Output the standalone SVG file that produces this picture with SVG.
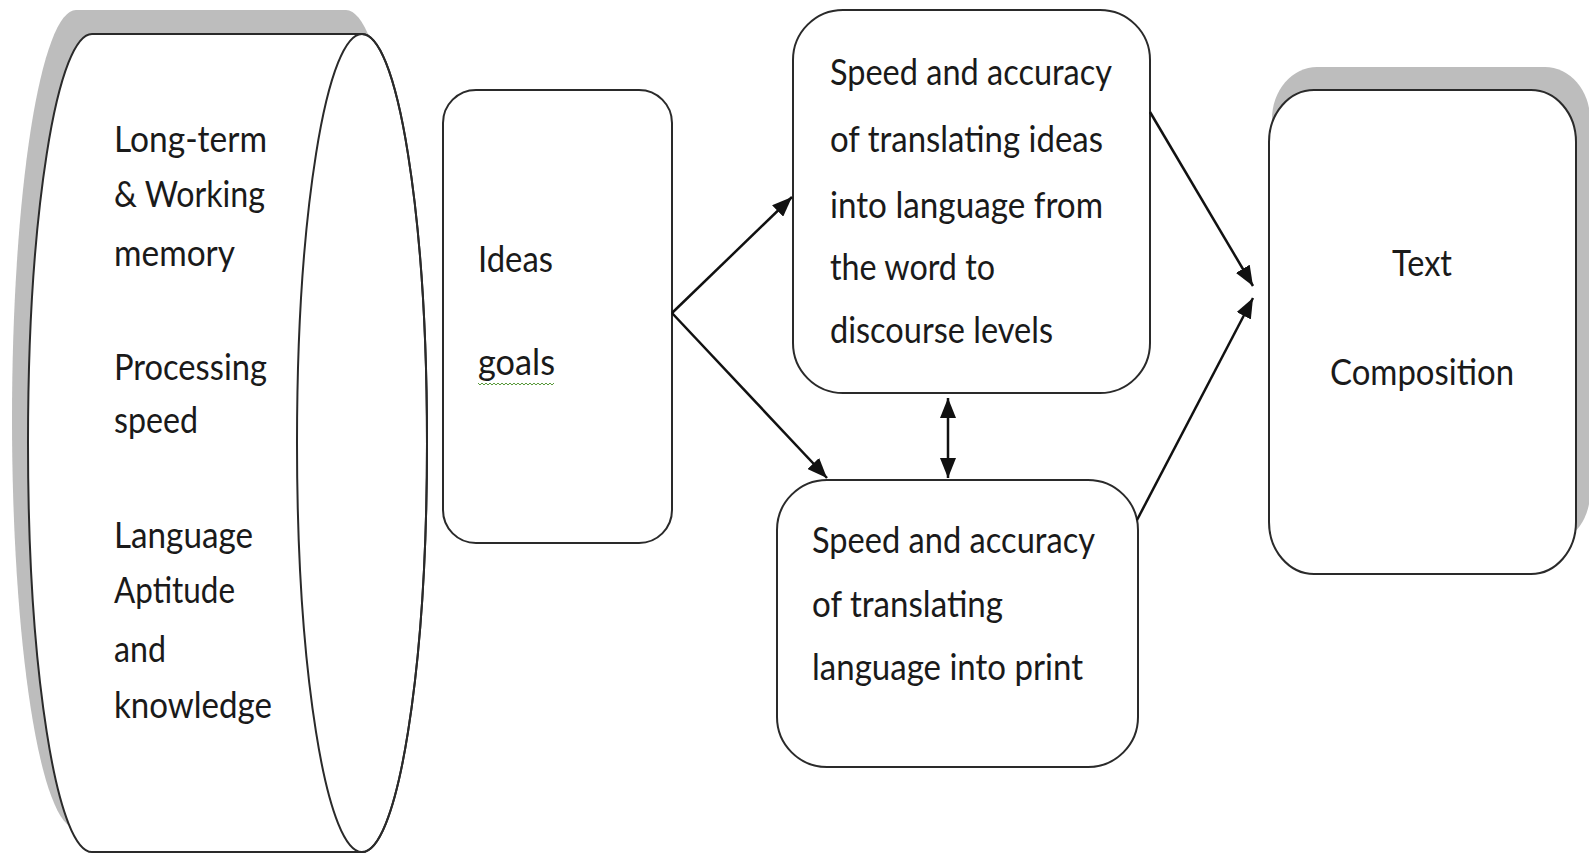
<svg xmlns="http://www.w3.org/2000/svg" width="1589" height="857" viewBox="0 0 1589 857">
<defs>
<style>
.box{fill:#fff;stroke:#2a2a2a;stroke-width:2}
.shadow{fill:#bdbdbd;stroke:none}
.t{font-family:Lato,"Open Sans","Liberation Sans",sans-serif;font-size:37px;fill:#1a1a1a}
.conn{stroke:#111;stroke-width:2.5;fill:none}
</style>
<marker id="ah" viewBox="0 0 20 16" refX="20" refY="8" markerWidth="20" markerHeight="16" markerUnits="userSpaceOnUse" orient="auto-start-reverse">
<path d="M0,0 L20,8 L0,16 Z" fill="#111"/>
</marker>
</defs>
<rect width="1589" height="857" fill="#fff"/>

<g id="memory-cylinder">
<path class="shadow" d="M76,10 L346,10 A65,409 0 0 1 346,828 L76,828 A64,409 0 0 1 76,10 Z"/>
<path class="box" d="M92,34 L362,34 A65,409 0 0 1 362,852 L92,852 A64,409 0 0 1 92,34 Z"/>
<ellipse cx="362" cy="443" rx="65" ry="409" fill="none" stroke="#2a2a2a" stroke-width="2"/>
<text class="t" x="114" y="152" textLength="153" lengthAdjust="spacingAndGlyphs">Long-term</text>
<text class="t" x="114" y="207" textLength="151" lengthAdjust="spacingAndGlyphs">&amp; Working</text>
<text class="t" x="114" y="266" textLength="121" lengthAdjust="spacingAndGlyphs">memory</text>
<text class="t" x="114" y="380" textLength="153" lengthAdjust="spacingAndGlyphs">Processing</text>
<text class="t" x="114" y="433" textLength="84" lengthAdjust="spacingAndGlyphs">speed</text>
<text class="t" x="114" y="548" textLength="139" lengthAdjust="spacingAndGlyphs">Language</text>
<text class="t" x="114" y="603" textLength="121" lengthAdjust="spacingAndGlyphs">Aptitude</text>
<text class="t" x="114" y="662" textLength="52" lengthAdjust="spacingAndGlyphs">and</text>
<text class="t" x="114" y="718" textLength="158" lengthAdjust="spacingAndGlyphs">knowledge</text>
</g>

<g id="ideas-goals">
<rect class="box" x="443" y="90" width="229" height="453" rx="33" ry="33"/>
<text class="t" x="478" y="272" textLength="75" lengthAdjust="spacingAndGlyphs">Ideas</text>
<text class="t" x="478" y="375" textLength="77" lengthAdjust="spacingAndGlyphs">goals</text>
<path d="M478,383 l2,2 l2,-2 l2,2 l2,-2 l2,2 l2,-2 l2,2 l2,-2 l2,2 l2,-2 l2,2 l2,-2 l2,2 l2,-2 l2,2 l2,-2 l2,2 l2,-2 l2,2 l2,-2 l2,2 l2,-2 l2,2 l2,-2 l2,2 l2,-2 l2,2 l2,-2 l2,2 l2,-2 l2,2 l2,-2 l2,2 l2,-2 l2,2 l2,-2 l2,2 l2,-2" fill="none" stroke="#5a9a3c" stroke-width="1"/>
</g>

<g id="translate-ideas">
<rect class="box" x="793" y="10" width="357" height="383" rx="50" ry="50"/>
<text class="t" x="830" y="85" textLength="282" lengthAdjust="spacingAndGlyphs">Speed and accuracy</text>
<text class="t" x="830" y="152" textLength="273" lengthAdjust="spacingAndGlyphs">of translating ideas</text>
<text class="t" x="830" y="218" textLength="273" lengthAdjust="spacingAndGlyphs">into language from</text>
<text class="t" x="830" y="280" textLength="165" lengthAdjust="spacingAndGlyphs">the word to</text>
<text class="t" x="830" y="343" textLength="223" lengthAdjust="spacingAndGlyphs">discourse levels</text>
</g>

<g id="translate-print">
<rect class="box" x="777" y="480" width="361" height="287" rx="50" ry="50"/>
<text class="t" x="812" y="553" textLength="283" lengthAdjust="spacingAndGlyphs">Speed and accuracy</text>
<text class="t" x="812" y="617" textLength="191" lengthAdjust="spacingAndGlyphs">of translating</text>
<text class="t" x="812" y="680" textLength="271" lengthAdjust="spacingAndGlyphs">language into print</text>
</g>

<g id="text-composition">
<rect class="shadow" x="1272" y="67" width="318" height="478" rx="45" ry="52"/>
<rect class="box" x="1269" y="90" width="307" height="484" rx="45" ry="52"/>
<text class="t" x="1392" y="276" textLength="60" lengthAdjust="spacingAndGlyphs">Text</text>
<text class="t" x="1330" y="385" textLength="184" lengthAdjust="spacingAndGlyphs">Composition</text>
</g>

<g id="connectors">
<line class="conn" x1="672" y1="313" x2="792" y2="197" marker-end="url(#ah)"/>
<line class="conn" x1="672" y1="313" x2="827" y2="478" marker-end="url(#ah)"/>
<line class="conn" x1="948" y1="398" x2="948" y2="478" marker-start="url(#ah)" marker-end="url(#ah)"/>
<line class="conn" x1="1150" y1="112" x2="1253" y2="286" marker-end="url(#ah)"/>
<line class="conn" x1="1137" y1="520" x2="1253" y2="298" marker-end="url(#ah)"/>
</g>
</svg>
